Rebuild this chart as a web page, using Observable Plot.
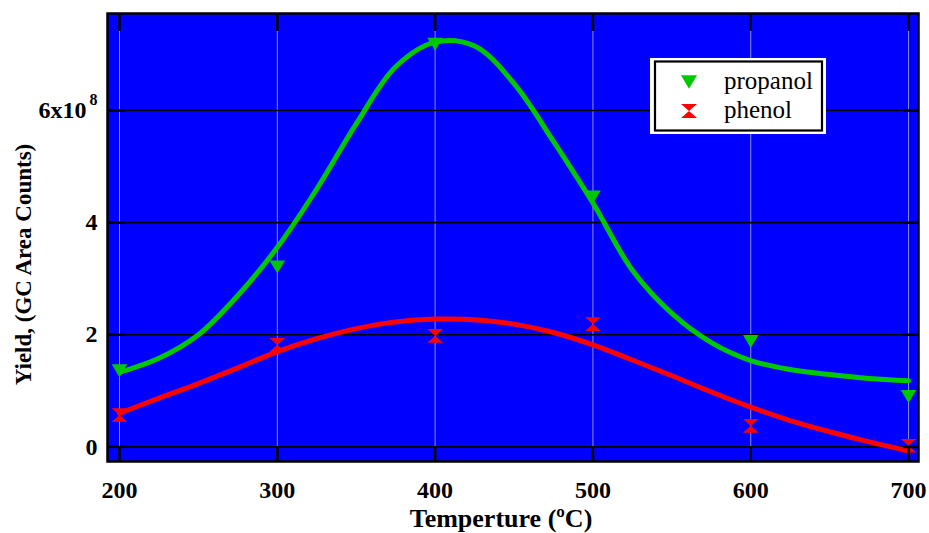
<!DOCTYPE html>
<html>
<head>
<meta charset="utf-8">
<script src="https://cdn.jsdelivr.net/npm/d3@7"></script>
<script src="https://cdn.jsdelivr.net/npm/@observablehq/plot@0.6"></script>
<style>
  body { margin: 0; background: #ffffff; }
  #wrap { position: relative; width: 929px; height: 533px; }
  #legend { position: absolute; left: 650px; top: 58px; }
</style>
</head>
<body>
<div id="wrap"><div id="chart"></div><svg id="legend" width="176" height="76"></svg></div>
<script>
// ---- data ----
const seriesNames = ["propanol", "phenol"];
const seriesColors = ["#00c800", "#ff0000"];
const temps = [200, 300, 400, 500, 600, 700];
const propanol = [1.36e8, 3.21e8, 7.18e8, 4.46e8, 1.88e8, 0.90e8];
const phenol = [0.57e8, 1.82e8, 1.98e8, 2.19e8, 0.375e8, 0.02e8];
const fitTemps = [200, 225, 250, 275, 300, 325, 350, 375, 400, 425, 450, 475, 500, 525, 550, 575, 600, 625, 650, 675, 700];
const propanolFit = [1.33e8, 1.58e8, 2.0e8, 2.7e8, 3.56e8, 4.6e8, 5.76e8, 6.78e8, 7.22e8, 7.15e8, 6.48e8, 5.45e8, 4.35e8, 3.15e8, 2.38e8, 1.86e8, 1.54e8, 1.38e8, 1.29e8, 1.22e8, 1.18e8];
const phenolFit = [0.6e8, 0.87e8, 1.13e8, 1.41e8, 1.70e8, 1.93e8, 2.11e8, 2.23e8, 2.28e8, 2.27e8, 2.19e8, 2.04e8, 1.82e8, 1.55e8, 1.27e8, 0.98e8, 0.71e8, 0.47e8, 0.27e8, 0.09e8, -0.07e8];
const xTicks = [200, 300, 400, 500, 600, 700];
const yTicks = [0, 2e8, 4e8, 6e8];
const yTickLabels = ["0", "2", "4", "6x10"];
const yTickSuperscript = "8";
const xLabel = "Temperture (ºC)";
const yLabel = "Yield, (GC Area Counts)";

// ---- custom symbols ----
const triDown = {
  draw(ctx, size) {
    const r = Math.sqrt(size / Math.PI);
    const h = r * 0.83;
    ctx.moveTo(-r, -h); ctx.lineTo(r, -h); ctx.lineTo(0, h); ctx.closePath();
  }
};
const hourglass = {
  draw(ctx, size) {
    const r = Math.sqrt(size / Math.PI);
    const h = r * 0.87;
    ctx.moveTo(-r, -h); ctx.lineTo(r, -h); ctx.lineTo(-r, h); ctx.lineTo(r, h); ctx.closePath();
  }
};

const pts = (xs, ys, name) => xs.map((x, i) => ({x, y: ys[i], name}));
const propPts = pts(temps, propanol, seriesNames[0]);
const phenPts = pts(temps, phenol, seriesNames[1]);
const propFit = pts(fitTemps, propanolFit, seriesNames[0]);
const phenFit = pts(fitTemps, phenolFit, seriesNames[1]);

const serif = "'Liberation Serif', 'Times New Roman', serif";

const chart = Plot.plot({
  width: 929,
  height: 533,
  marginTop: 13,
  marginBottom: 72,
  marginLeft: 107,
  marginRight: 11,
  style: {fontFamily: serif, background: "#ffffff", color: "#000000"},
  x: {domain: [192.4, 706.3]},
  y: {domain: [-0.26e8, 7.73e8]},
  marks: [
    Plot.frame({fill: "#0000ff", stroke: null}),
    Plot.ruleX(xTicks, {stroke: "#8c8cff", strokeWidth: 1}),
    Plot.ruleY(yTicks, {stroke: "#000000", strokeWidth: 1.6}),
    Plot.line(propFit, {x: "x", y: "y", stroke: seriesColors[0], strokeWidth: 5, curve: "catmull-rom"}),
    Plot.line(phenFit, {x: "x", y: "y", stroke: seriesColors[1], strokeWidth: 5, curve: "catmull-rom"}),
    Plot.dot(propPts, {x: "x", y: "y", symbol: triDown, r: 7.8, fill: seriesColors[0], stroke: null}),
    Plot.dot(phenPts, {x: "x", y: "y", symbol: hourglass, r: 7.8, fill: seriesColors[1], stroke: null}),
    Plot.axisX(xTicks, {anchor: "bottom", tickSize: -15, tickPadding: 34, strokeWidth: 2.5,
      fontSize: 24, fontWeight: "bold", label: null, tickFormat: d => String(d)}),
    Plot.axisX(xTicks, {anchor: "top", tickSize: -17, strokeWidth: 2.5, label: null, tickFormat: () => ""}),
    Plot.axisY(yTicks, {anchor: "left", tickSize: -18, tickPadding: 28, strokeWidth: 2.5,
      fontSize: 24, fontWeight: "bold", label: null, tickFormat: d => yTickLabels[yTicks.indexOf(d)]}),
    Plot.axisY(yTicks, {anchor: "right", tickSize: -16, strokeWidth: 2.5, label: null, tickFormat: () => ""}),
    Plot.frame({stroke: "#000000", strokeWidth: 2.5}),
    Plot.text([xLabel], {frameAnchor: "bottom", dx: -12, dy: 57, textAnchor: "middle", lineAnchor: "middle",
      fontSize: 26, fontWeight: "bold", fill: "#000000"}),
    Plot.text([yLabel], {frameAnchor: "left", dx: -84, dy: 27, rotate: -90, textAnchor: "middle", lineAnchor: "middle",
      fontSize: 23, fontWeight: "bold", fill: "#000000"})
  ]
});
document.getElementById("chart").appendChild(chart);

// superscript exponent on the top y tick label
chart.querySelectorAll("text").forEach(t => {
  if (t.textContent === yTickLabels[yTickLabels.length - 1]) {
    const ts = document.createElementNS("http://www.w3.org/2000/svg", "tspan");
    ts.setAttribute("dy", "-13");
    ts.setAttribute("dx", "3");
    ts.setAttribute("font-size", "16");
    ts.textContent = yTickSuperscript;
    t.appendChild(ts);
  }
});

// ---- legend ----
const NS = "http://www.w3.org/2000/svg";
const leg = document.getElementById("legend");
function el(name, attrs, text) {
  const e = document.createElementNS(NS, name);
  for (const k in attrs) e.setAttribute(k, attrs[k]);
  if (text != null) e.textContent = text;
  leg.appendChild(e);
  return e;
}
el("rect", {x: 0, y: 0, width: 176, height: 76, fill: "#ffffff"});
el("rect", {x: 5, y: 3.5, width: 167, height: 69, fill: "none", stroke: "#000000", "stroke-width": 2.2});
const syms = [triDown, hourglass];
seriesNames.forEach((name, i) => {
  const p = d3.path();
  syms[i].draw(p, 8 * 8 * Math.PI);
  el("path", {d: p.toString(), fill: seriesColors[i], transform: `translate(39,${24 + i * 29})`});
  el("text", {x: 74, y: 31 + i * 29, "font-family": serif, "font-size": 25, fill: "#000000"}, name);
});
</script>
</body>
</html>
